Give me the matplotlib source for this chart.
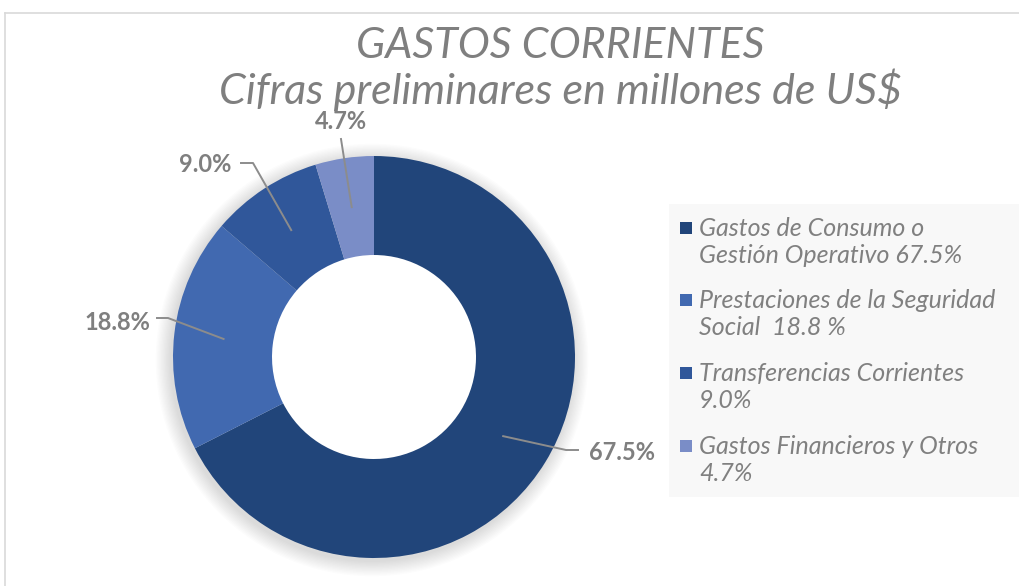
import numpy as np
import matplotlib.pyplot as plt
from matplotlib.patches import Circle, Rectangle
from matplotlib.lines import Line2D

# data
categories = ["Gastos de Consumo o\nGestión Operativo 67.5%",
              "Prestaciones de la Seguridad\nSocial  18.8 %",
              "Transferencias Corrientes\n9.0%",
              "Gastos Financieros y Otros\n4.7%"]
shares = [67.5, 18.8, 9.0, 4.7]
pct_labels = ["67.5%", "18.8%", "9.0%", "4.7%"]
colors = ["#21457A", "#4169B0", "#30579A", "#7A8DC7"]

W, H = 1020, 586
fig = plt.figure(figsize=(W / 100, H / 100), dpi=100)
ax = fig.add_axes([0, 0, 1, 1])

cx, cy, R, r = 374, H - 357, 201, 102

# soft shadow around the ring
for i in range(12):
    ax.add_patch(Circle((cx - 2, cy - 3), R + 1 + i * 1.3, color="black",
                        alpha=0.012, lw=0, zorder=1))
ax.add_patch(Circle((cx, cy), r, color="white", zorder=1.5))

wedges, _ = ax.pie(shares, colors=colors, startangle=90, counterclock=False,
                   radius=R, center=(cx, cy), frame=True,
                   wedgeprops=dict(width=R - r, linewidth=0))
for w in wedges:
    w.set_zorder(2)
ax.set_xlim(0, W)
ax.set_ylim(0, H)
ax.set_aspect("equal")
ax.axis("off")

# outer chart frame
ax.add_line(Line2D([5, W], [H - 13, H - 13], color="#D9D9D9", lw=1.2))
ax.add_line(Line2D([5, 5], [0, H - 13], color="#D9D9D9", lw=1.2))

# data labels with leader lines: (text x, text y, ha, elbow x, elbow y, end x)
label_pos = [(589, 452, "left", 566, 450, 578),
             (150, 322, "right", 168, 318, 157),
             (231, 164, "right", 253, 163, 241),
             (341, 121, "center", 341, 139, None)]
gray = "#7F7F7F"
start = 0.0
for s, lab, (tx, ty, ha, ex, ey, hx) in zip(shares, pct_labels, label_pos):
    mid = start + s / 2
    start += s
    ang = np.deg2rad(90 - mid * 3.6)
    px = cx + (R + r) / 2 * np.cos(ang)
    py = cy + (R + r) / 2 * np.sin(ang)
    xs = [px, ex]
    ys = [py, H - ey]
    if hx is not None:
        xs.append(hx)
        ys.append(H - ey)
    ax.add_line(Line2D(xs, ys, color="#8C8C8C", lw=1.4, zorder=4))
    ax.text(tx, H - ty, lab, ha=ha, va="center", fontsize=17,
            fontweight="bold", color=gray, family="Lato", zorder=5)

# title
ax.text(560, H - 46, "GASTOS CORRIENTES", ha="center", va="center",
        fontsize=31, style="italic", color="#7F7F7F", family="Lato")
ax.text(561, H - 90, "Cifras preliminares en millones de US$", ha="center",
        va="center", fontsize=31, style="italic", color="#7F7F7F",
        family="Lato")

# legend panel
ax.add_patch(Rectangle((669, H - 497), W - 669, 497 - 204, color="#F8F8F8",
                       lw=0, zorder=0.5))
leg_y = [242, 314, 387, 460]
for c, lab, y in zip(colors, categories, leg_y):
    ax.add_patch(Rectangle((680, H - (y - 14) - 6), 12, 12,
                           color=c, lw=0, zorder=2))
    ax.text(699, H - y, lab, ha="left", va="center", fontsize=18,
            style="italic", color="#808080", family="Lato", linespacing=1.2)

fig.savefig("out.png", dpi=100)
